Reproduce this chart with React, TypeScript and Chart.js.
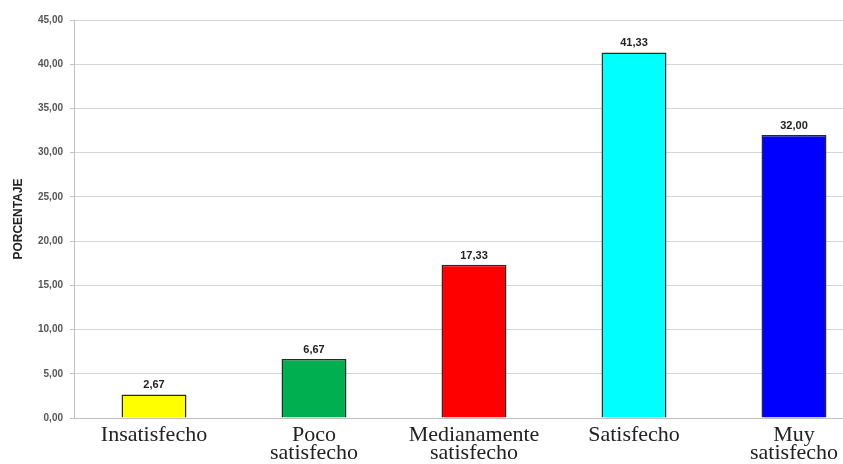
import React, { useEffect, useRef } from "react";
import { Chart, registerables } from "chart.js";

Chart.register(...registerables);

const categories: string[][] = [
  ["Insatisfecho"],
  ["Poco", "satisfecho"],
  ["Medianamente", "satisfecho"],
  ["Satisfecho"],
  ["Muy", "satisfecho"],
];
const values: number[] = [2.67, 6.67, 17.33, 41.33, 32.0];
const barColors: string[] = ["#ffff00", "#00b050", "#ff0000", "#00ffff", "#0000ff"];
const yTicks: number[] = [0, 5, 10, 15, 20, 25, 30, 35, 40, 45];
const yTitle = "PORCENTAJE";

const fmt = (v: number) => v.toFixed(2).replace(".", ",");

const valueLabels = {
  id: "valueLabels",
  afterDatasetsDraw(chart: any) {
    const ctx = chart.ctx;
    const meta = chart.getDatasetMeta(0);
    ctx.save();
    ctx.font = "bold 11px 'Liberation Sans', Arial, sans-serif";
    ctx.fillStyle = "#222";
    ctx.textAlign = "center";
    ctx.textBaseline = "alphabetic";
    meta.data.forEach((bar: any, i: number) => {
      ctx.fillText(fmt(values[i]), bar.x, bar.y - 6);
    });
    ctx.restore();
  },
};

export default function App() {
  const ref = useRef<HTMLCanvasElement | null>(null);
  useEffect(() => {
    if (!ref.current) return;
    const chart = new Chart(ref.current, {
      type: "bar",
      data: {
        labels: categories,
        datasets: [
          {
            data: values,
            backgroundColor: barColors,
            borderColor: "#2a2a2a",
            borderWidth: 1.5,
            barPercentage: 0.406,
            categoryPercentage: 1,
          },
        ],
      },
      options: {
        animation: false,
        responsive: false,
        maintainAspectRatio: false,
        layout: { padding: { top: 20, left: 0, right: 0, bottom: 0 } },
        plugins: {
          legend: { display: false },
          tooltip: { enabled: false },
        },
        scales: {
          x: {
            grid: { display: false, drawTicks: false },
            border: { display: true, color: "#c0c0c0" },
            ticks: {
              color: "#222",
              padding: 8,
              maxRotation: 0,
              autoSkip: false,
              font: { family: "'Liberation Serif', 'Times New Roman', serif", size: 22, lineHeight: 0.82 },
            },
            afterFit: (s: any) => {
              s.height = 52;
            },
          },
          y: {
            min: 0,
            max: 45,
            afterBuildTicks: (s: any) => {
              s.ticks = yTicks.map((v) => ({ value: v }));
            },
            grid: { color: "#d4d4d4", tickLength: 4, tickColor: "#c0c0c0" },
            border: { display: true, color: "#c0c0c0" },
            ticks: {
              color: "#555",
              padding: 7,
              font: { family: "'Liberation Sans', Arial, sans-serif", size: 10, weight: "bold" },
              callback: (v: any) => fmt(Number(v)),
            },
            title: {
              display: true,
              text: yTitle,
              color: "#222",
              padding: { top: 11, bottom: 4 },
              font: { family: "'Liberation Sans', Arial, sans-serif", size: 12, weight: "bold" },
            },
            afterFit: (s: any) => {
              s.width = 74;
            },
          },
        },
      },
      plugins: [valueLabels],
    });
    return () => chart.destroy();
  }, []);
  return (
    <div
      style={{
        position: "fixed",
        left: 0,
        top: 0,
        width: 843,
        height: 464,
        overflow: "hidden",
        background: "#fff",
      }}
    >
      <canvas ref={ref} width={874} height={470} style={{ display: "block", width: 874, height: 470 }} />
    </div>
  );
}
